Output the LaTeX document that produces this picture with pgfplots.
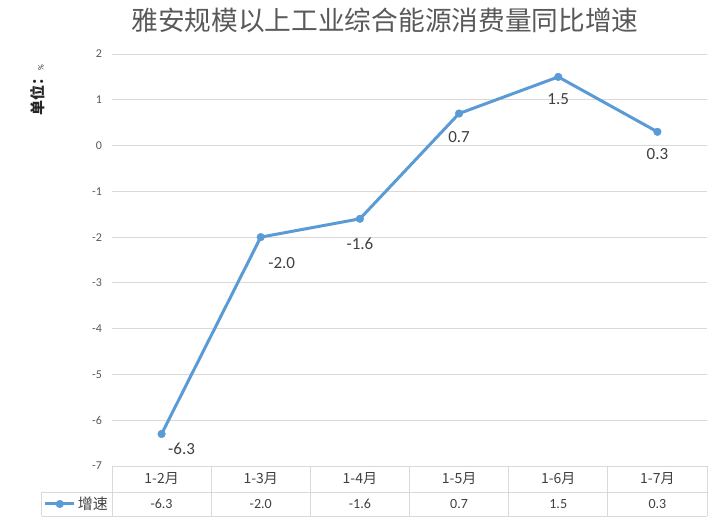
\documentclass[border=0pt]{standalone}
\usepackage{fontspec}
\setmainfont{Carlito}
\newfontfamily\cjk{Noto Sans CJK SC}
\usepackage{pgfplots}
\usepackage{pgfplotstable}
\pgfplotsset{compat=1.18}
\definecolor{linecol}{HTML}{5B9BD5}
\definecolor{gridcol}{HTML}{D9D9D9}
\definecolor{tickcol}{HTML}{595959}
\definecolor{labcol}{HTML}{404040}
\definecolor{ylabcol}{HTML}{262626}

\pgfplotstableread{
x y label dx dy
0 -6.3 -6.3 20 -14.5
1 -2.0 -2.0 21 -26
2 -1.6 -1.6 0 -25
3 0.7 0.7 0 -23.5
4 1.5 1.5 0 -22
5 0.3 0.3 0 -22
}\growth

\begin{document}
\begin{tikzpicture}[x=1pt,y=1pt]
\useasboundingbox (0,0) rectangle (719,528);
\begin{axis}[
  at={(112pt,62pt)}, anchor=south west,
  scale only axis, width=595pt, height=412pt,
  xmin=-0.5, xmax=5.5, ymin=-7, ymax=2,
  ytick={-7,-6,...,2},
  xtick={0,...,5},
  xticklabels={{\cjk 1-2月},{\cjk 1-3月},{\cjk 1-4月},{\cjk 1-5月},{\cjk 1-6月},{\cjk 1-7月}},
  xticklabel style={anchor=center, yshift=-13pt, font=\fontsize{14}{16}\selectfont, text=labcol},
  ymajorgrids,
  grid style={draw=gridcol, line width=0.9pt},
  axis line style={draw=none},
  major tick length=0pt,
  yticklabel style={font=\fontsize{12}{14}\selectfont, text=tickcol, anchor=east, xshift=-6.5pt},
  /pgf/number format/assume math mode=true,
  clip=false,
  title={\cjk 雅安规模以上工业综合能源消费量同比增速},
  title style={at={(axis description cs:0.4588,1.066)}, anchor=center, font=\fontsize{26.7}{30}\selectfont, text=tickcol},
  ylabel={{\cjk\bfseries 单位：}{\fontsize{8}{9}\selectfont \%}},
  ylabel style={at={(axis description cs:-0.1248,0.912)}, anchor=center, rotate=0, font=\fontsize{15}{17}\selectfont, text=ylabcol},
  legend style={at={(axis description cs:-0.1146,-0.0922)}, anchor=west, draw=none, fill=none, inner sep=0pt, outer sep=0pt,
    font=\fontsize{15}{17}\selectfont\cjk, text=labcol, /tikz/every even column/.append style={column sep=4pt}},
  legend image code/.code={\draw[#1, mark repeat=2, mark phase=2] plot coordinates {(0pt,0pt) (14.5pt,0pt) (29pt,0pt)};},
]
\addplot[color=linecol, line width=3pt, mark=*, mark size=3.8pt, mark options={solid, fill=linecol, draw=linecol, line width=0.5pt},
  point meta=explicit symbolic,
  visualization depends on={\thisrow{dx} \as \dx},
  visualization depends on={\thisrow{dy} \as \dy},
  nodes near coords,
  nodes near coords style={anchor=center, xshift=\dx pt, yshift=\dy pt, font=\fontsize{17}{19}\selectfont, text=labcol, inner sep=0pt}]
  table[x=x, y=y, meta=label] {\growth};
\addlegendentry{增速}
\foreach \k/\v in {0/-6.3,1/-2.0,2/-1.6,3/0.7,4/1.5,5/0.3} {
  \edef\tmp{\noexpand\node[anchor=center, yshift=-38pt, font=\noexpand\fontsize{14}{16}\noexpand\selectfont, text=labcol] at (axis cs:\k,-7) {\v};}
  \tmp
}
\end{axis}
\draw[gridcol, line width=0.9pt] (112,62) -- (707,62);
\draw[gridcol, line width=0.9pt] (41.5,36) -- (707,36);
\draw[gridcol, line width=0.9pt] (41.5,12) -- (707,12);
\draw[gridcol, line width=0.9pt] (41.5,36) -- (41.5,12);
\foreach \i in {0,...,6} {
  \draw[gridcol, line width=0.9pt] ({112+99.1667*\i},62) -- ({112+99.1667*\i},12);
}
\end{tikzpicture}
\end{document}
